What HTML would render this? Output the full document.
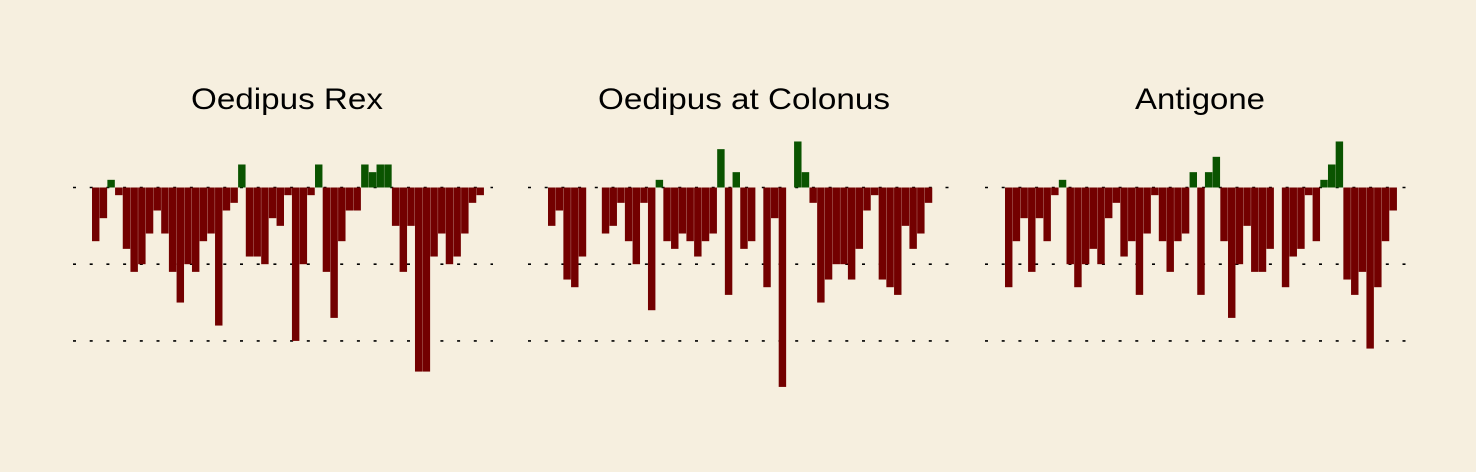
<!DOCTYPE html>
<html><head><meta charset="utf-8"><style>
html,body{margin:0;padding:0;background:#f6efdf;}
svg{display:block;font-family:"Liberation Sans",sans-serif;}
</style></head><body>
<svg id="chart" width="1476" height="472" viewBox="0 0 1476 472">
<rect width="1476" height="472" fill="#f6efdf"/>
</svg>
<script>
const titles = ["Oedipus Rex", "Oedipus at Colonus", "Antigone"];
const rexValues = [-0.7,-0.4,0.1,-0.1,-0.8,-1.1,-1.0,-0.6,-0.3,-0.6,-1.1,-1.5,-1.0,-1.1,-0.7,-0.6,-1.8,-0.3,-0.2,0.3,-0.9,-0.9,-1.0,-0.4,-0.5,-0.1,-2.0,-1.0,-0.1,0.3,-1.1,-1.7,-0.7,-0.3,-0.3,0.3,0.2,0.3,0.3,-0.5,-1.1,-0.5,-2.4,-2.4,-0.9,-0.6,-1.0,-0.9,-0.6,-0.2,-0.1];
const colonusValues = [-0.5,-0.3,-1.2,-1.3,-0.9,0,0,-0.6,-0.5,-0.2,-0.7,-1.0,-0.2,-1.6,0.1,-0.7,-0.8,-0.6,-0.7,-0.9,-0.7,-0.6,0.5,-1.4,0.2,-0.8,-0.7,0,-1.3,-0.4,-2.6,0,0.6,0.2,-0.2,-1.5,-1.2,-1.0,-1.0,-1.2,-0.8,-0.3,-0.1,-1.2,-1.3,-1.4,-0.5,-0.8,-0.6,-0.2];
const antigoneValues = [-1.3,-0.7,-0.4,-1.1,-0.4,-0.7,-0.1,0.1,-1.0,-1.3,-1.0,-0.8,-1.0,-0.4,-0.2,-0.9,-0.7,-1.4,-0.6,-0.1,-0.7,-1.1,-0.7,-0.6,0.2,-1.4,0.2,0.4,-0.7,-1.7,-1.0,-0.5,-1.1,-1.1,-0.8,0,-1.3,-0.9,-0.8,-0.1,-0.7,0.1,0.3,0.6,-1.2,-1.4,-1.1,-2.1,-1.3,-0.7,-0.3];
const gridLevels = [0, -1, -2];

const series = [rexValues, colonusValues, antigoneValues];
const panels = [
  {x0: 92, lineX0: 73, lineX1: 493, titleX: 287, titleW: 192},
  {x0: 548, lineX0: 528, lineX1: 950, titleX: 744, titleW: 292},
  {x0: 1005, lineX0: 985, lineX1: 1407, titleX: 1200, titleW: 130}
];
const baseY = 187.5, unit = 76.7, slotW = 7.69;
const y = v => baseY - v * unit;
const NS = "http://www.w3.org/2000/svg";
const svg = document.getElementById("chart");
function mk(tag, attrs){const e=document.createElementNS(NS,tag);for(const k in attrs)e.setAttribute(k,attrs[k]);return e;}

panels.forEach((p, i) => {
  const g = mk("g", {});
  
  
  svg.appendChild(g);
  const t = mk("text", {x: p.titleX, y: 109, "text-anchor": "middle", "font-size": 30, fill: "#000", textLength: p.titleW, lengthAdjust: "spacingAndGlyphs"});
  
  
  t.textContent = titles[i];
  g.appendChild(t);
  gridLevels.forEach(lv => {
    const l = mk("line", {x1: p.lineX0, x2: p.lineX1, y1: y(lv), y2: y(lv), stroke: "#000", "stroke-width": 1.6, "stroke-dasharray": "3 13.7"});
    
    
    g.appendChild(l);
  });
  series[i].forEach((v, k) => {
    if (v === 0) return;
    const top = Math.min(y(v), y(0)), h = Math.abs(y(v) - y(0));
    const r = mk("rect", {x: p.x0 + k * slotW, y: top, width: slotW - 0.25, height: h, fill: v > 0 ? "#0a5400" : "#730000"});
    
    
    g.appendChild(r);
  });
});
</script>
</body></html>
